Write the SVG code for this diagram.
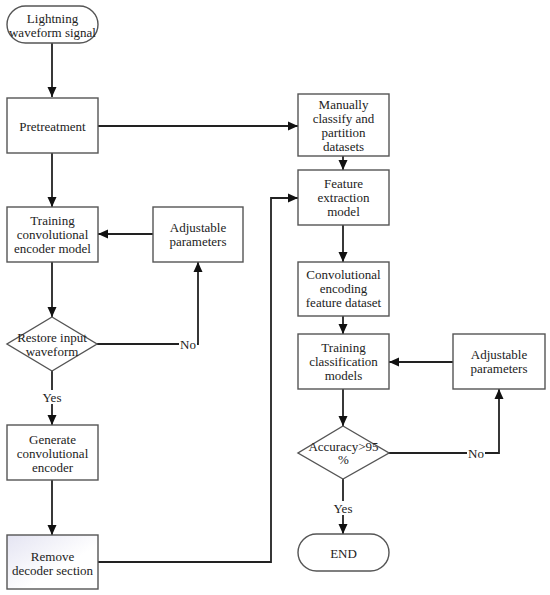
<svg xmlns="http://www.w3.org/2000/svg" width="550" height="595" viewBox="0 0 550 595">
<defs>
<marker id="arr" markerUnits="userSpaceOnUse" markerWidth="10" markerHeight="10" refX="10" refY="5" orient="auto">
<path d="M0,0.5 L10,5 L0,9.5 z" fill="#111"/>
</marker>
<linearGradient id="grad" x1="0" y1="0" x2="1" y2="1">
<stop offset="0" stop-color="#e4e4f2"/>
<stop offset="0.6" stop-color="#ffffff"/>
</linearGradient>
<style>
.box{fill:#fff;stroke:#555;stroke-width:1.4}
.t{font-family:"Liberation Serif","DejaVu Serif",serif;font-size:13px;fill:#222;text-anchor:middle}
.c{fill:none;stroke:#222;stroke-width:1.8}
.lbg{fill:#fff}
</style>
</defs>
<rect width="550" height="595" fill="#fff"/>
<g id="connectors">
<path class="c" d="M52,43 V97" marker-end="url(#arr)"/>
<path class="c" d="M98,126 H298" marker-end="url(#arr)"/>
<path class="c" d="M52,153 V207" marker-end="url(#arr)"/>
<path class="c" d="M153,234 H98" marker-end="url(#arr)"/>
<path class="c" d="M52,262 V317" marker-end="url(#arr)"/>
<path class="c" d="M97,344 H198 V262" marker-end="url(#arr)"/>
<path class="c" d="M52,371 V425" marker-end="url(#arr)"/>
<path class="c" d="M52,480 V535" marker-end="url(#arr)"/>
<path class="c" d="M98,562 H271 V198 H298" marker-end="url(#arr)"/>
<path class="c" d="M343,156 V170" marker-end="url(#arr)"/>
<path class="c" d="M343,225 V262" marker-end="url(#arr)"/>
<path class="c" d="M343,316 V334" marker-end="url(#arr)"/>
<path class="c" d="M453,362 H389" marker-end="url(#arr)"/>
<path class="c" d="M343,389 V426" marker-end="url(#arr)"/>
<path class="c" d="M389,453 H499 V389" marker-end="url(#arr)"/>
<path class="c" d="M343,479 V534" marker-end="url(#arr)"/>
<rect class="lbg" x="179" y="337" width="18" height="14"/>
<text class="t" x="188" y="348.5">No</text>
<rect class="lbg" x="42" y="390" width="21" height="14"/>
<text class="t" x="52" y="401.5">Yes</text>
<rect class="lbg" x="467" y="446" width="18" height="14"/>
<text class="t" x="476" y="457.5">No</text>
<rect class="lbg" x="332" y="501" width="22" height="14"/>
<text class="t" x="343" y="512.5">Yes</text>
</g>
<g id="start">
<rect class="box" x="7" y="6" width="91" height="37" rx="18.5"/>
<text class="t" x="52.5" y="22.5">Lightning</text>
<text class="t" x="52.5" y="36.5">waveform signal</text>
</g>
<g id="pretreatment">
<rect class="box" x="7" y="98" width="91" height="55"/>
<text class="t" x="52.5" y="130.5">Pretreatment</text>
</g>
<g id="training-encoder">
<rect class="box" x="7" y="207" width="91" height="55"/>
<text class="t" x="52.5" y="224.5">Training</text>
<text class="t" x="52.5" y="238.5">convolutional</text>
<text class="t" x="52.5" y="252.5">encoder model</text>
</g>
<g id="adjustable-1">
<rect class="box" x="153" y="207" width="90" height="55"/>
<text class="t" x="198" y="231.5">Adjustable</text>
<text class="t" x="198" y="245.5">parameters</text>
</g>
<g id="restore">
<polygon class="box" points="52,317 97,344 52,371 7,344"/>
<text class="t" x="52" y="341.5">Restore input</text>
<text class="t" x="52" y="356">waveform</text>
</g>
<g id="generate">
<rect class="box" x="7" y="425" width="91" height="55"/>
<text class="t" x="52.5" y="443.5">Generate</text>
<text class="t" x="52.5" y="457.5">convolutional</text>
<text class="t" x="52.5" y="471.5">encoder</text>
</g>
<g id="remove">
<rect class="box" x="7" y="535" width="91" height="54" style="fill:url(#grad)"/>
<text class="t" x="52.5" y="560.5">Remove</text>
<text class="t" x="52.5" y="574.5">decoder section</text>
</g>
<g id="manually">
<rect class="box" x="298" y="94" width="91" height="62"/>
<text class="t" x="343.5" y="108.5">Manually</text>
<text class="t" x="343.5" y="122.5">classify and</text>
<text class="t" x="343.5" y="136.5">partition</text>
<text class="t" x="343.5" y="150.5">datasets</text>
</g>
<g id="feature">
<rect class="box" x="298" y="170" width="91" height="55"/>
<text class="t" x="343.5" y="187.5">Feature</text>
<text class="t" x="343.5" y="201.5">extraction</text>
<text class="t" x="343.5" y="215.5">model</text>
</g>
<g id="conv-dataset">
<rect class="box" x="298" y="262" width="91" height="54"/>
<text class="t" x="343.5" y="278.5">Convolutional</text>
<text class="t" x="343.5" y="292.5">encoding</text>
<text class="t" x="343.5" y="306.5">feature dataset</text>
</g>
<g id="training-cls">
<rect class="box" x="298" y="334" width="91" height="55"/>
<text class="t" x="343.5" y="351.5">Training</text>
<text class="t" x="343.5" y="365.5">classification</text>
<text class="t" x="343.5" y="379.5">models</text>
</g>
<g id="adjustable-2">
<rect class="box" x="453" y="334" width="92" height="55"/>
<text class="t" x="499" y="358.5">Adjustable</text>
<text class="t" x="499" y="372.5">parameters</text>
</g>
<g id="accuracy">
<polygon class="box" points="343,426 389,453 343,479 298,453"/>
<text class="t" x="343.5" y="450.5">Accuracy&gt;95</text>
<text class="t" x="343.5" y="464">%</text>
</g>
<g id="end">
<rect class="box" x="298" y="534" width="91" height="37" rx="18.5"/>
<text class="t" x="343.5" y="557.5">END</text>
</g>
</svg>
